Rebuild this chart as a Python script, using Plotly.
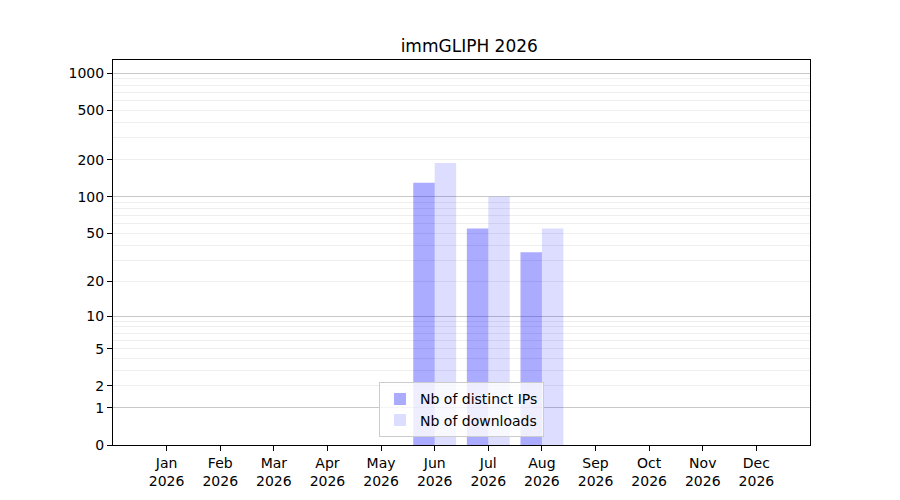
import numpy as np
import plotly.graph_objects as go

# Données
mois = ["Jan", "Feb", "Mar", "Apr", "May", "Jun", "Jul", "Aug", "Sep", "Oct", "Nov", "Dec"]
annee = "2026"
nb_ips = [0, 0, 0, 0, 0, 130, 55, 35, 0, 0, 0, 0]
nb_downloads = [0, 0, 0, 0, 0, 188, 100, 55, 0, 0, 0, 0]
ytick_vals = [0, 1, 2, 5, 10, 20, 50, 100, 200, 500, 1000]
ymajor_grid = [1, 10, 100, 1000]
yminor_grid = [m * d for d in (1, 10, 100) for m in range(2, 10)]


# échelle log(1 + x), comme l'axe de la figure d'origine
def tr(v):
    return np.log10(1 + np.asarray(v, dtype=float))


x = list(range(len(mois)))
labels = [m + "<br>" + annee for m in mois]
yrange = [0, 3.108]

fig = go.Figure()
fig.add_trace(go.Bar(x=x, y=tr(nb_ips), name="Nb of distinct IPs",
                     marker=dict(color="rgba(0,0,255,0.33)", line=dict(width=0))))
fig.add_trace(go.Bar(x=x, y=tr(nb_downloads), name="Nb of downloads",
                     marker=dict(color="rgba(0,0,255,0.135)", line=dict(width=0))))

# axe fantôme pour les lignes de grille principales (décades)
fig.add_trace(go.Scatter(x=[0], y=[0], yaxis="y2", mode="markers",
                         marker=dict(opacity=0), showlegend=False, hoverinfo="skip"))

fig.update_layout(
    width=900, height=500,
    template="plotly_white",
    paper_bgcolor="white", plot_bgcolor="white",
    font=dict(family="DejaVu Sans", size=14, color="black"),
    title=dict(text="immGLIPH 2026", x=0.5125, xanchor="center", y=0.924, yanchor="middle",
               font=dict(size=17, color="black")),
    margin=dict(l=105, r=98, t=52, b=63),
    barmode="group", bargap=0.2, bargroupgap=0,
    showlegend=True,
    legend=dict(x=0.5, xanchor="center", y=0.02, yanchor="bottom",
                bgcolor="rgba(255,255,255,0.8)", bordercolor="#cccccc", borderwidth=1,
                font=dict(size=14), tracegroupgap=0, itemwidth=30),
    xaxis=dict(range=[-1, 12], tickvals=x, ticktext=labels, showgrid=False,
               showline=True, linecolor="black", linewidth=1, mirror=True,
               ticks="outside", ticklen=5, tickcolor="black", zeroline=False),
    yaxis=dict(range=yrange, tickvals=tr(ytick_vals), ticktext=[str(v) for v in ytick_vals],
               showgrid=True, gridcolor="#eeeeee", gridwidth=1,
               minor=dict(tickvals=tr(yminor_grid), showgrid=True, gridcolor="#eeeeee",
                          gridwidth=1, ticks=""),
               showline=True, linecolor="black", linewidth=1, mirror=True,
               ticks="outside", ticklen=5, tickcolor="black", zeroline=False),
    yaxis2=dict(range=yrange, overlaying="y", side="left", tickvals=tr(ymajor_grid),
                showticklabels=False, showgrid=True, gridcolor="#c8c8c8", gridwidth=1,
                ticks="", zeroline=False, showline=False),
)

fig.write_html("out.html")
